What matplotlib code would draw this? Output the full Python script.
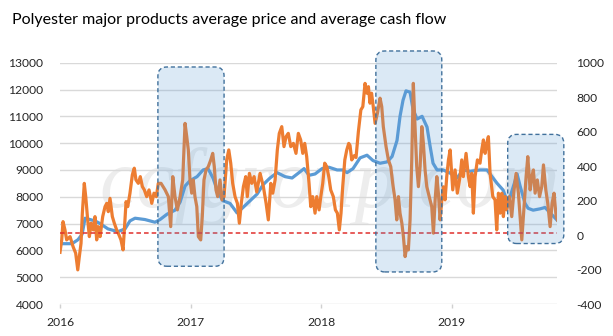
import matplotlib
matplotlib.use("Agg")
import matplotlib.pyplot as plt
from matplotlib.patches import FancyBboxPatch
from matplotlib.transforms import IdentityTransform

# ---------------- data ----------------
price_t = [2016.000, 2016.092, 2016.138, 2016.169, 2016.192, 2016.268, 2016.307, 2016.368,
           2016.444, 2016.498, 2016.536, 2016.575, 2016.651, 2016.728, 2016.766, 2016.820,
           2016.881, 2016.920, 2016.958, 2016.996, 2017.050, 2017.096, 2017.134, 2017.172,
           2017.211, 2017.249, 2017.303, 2017.356, 2017.402, 2017.456, 2017.510, 2017.556,
           2017.609, 2017.663, 2017.724, 2017.778, 2017.831, 2017.870, 2017.908, 2017.954,
           2018.008, 2018.061, 2018.123, 2018.169, 2018.199, 2018.245, 2018.299, 2018.352,
           2018.398, 2018.452, 2018.506, 2018.544, 2018.582, 2018.605, 2018.628, 2018.651,
           2018.682, 2018.705, 2018.736, 2018.774, 2018.812, 2018.835, 2018.858, 2018.889,
           2018.935, 2018.989, 2019.042, 2019.088, 2019.142, 2019.218, 2019.272, 2019.310,
           2019.349, 2019.395, 2019.433, 2019.471, 2019.502, 2019.525, 2019.563, 2019.586,
           2019.625, 2019.678, 2019.716, 2019.755, 2019.808]
price = [6250, 6250, 6400, 6600, 7200, 7100, 7000, 6800,
         6700, 6800, 7100, 7200, 7150, 7050, 7150, 7350,
         7500, 7800, 8400, 8600, 8750, 9000, 9050, 8700,
         8150, 7850, 7750, 7400, 7600, 7850, 8100, 8450,
         8700, 8900, 8750, 8700, 8900, 9050, 8800, 8850,
         9050, 9100, 9000, 9000, 8900, 9050, 9450, 9550,
         9350, 9250, 9300, 9500, 10100, 11000, 11600, 11950,
         11900, 11250, 10900, 11000, 10600, 9900, 9250, 9000,
         9000, 8880, 8700, 9000, 8950, 9000, 9000, 8750,
         8500, 8250, 7750, 8350, 8850, 8400, 7750, 7570,
         7500, 7550, 7600, 7400, 7130]

cash_t = [2016.000, 2016.013, 2016.023, 2016.038, 2016.051, 2016.077, 2016.100, 2016.120,
          2016.136, 2016.148, 2016.161, 2016.171, 2016.186, 2016.197, 2016.212, 2016.225,
          2016.238, 2016.255, 2016.268, 2016.281, 2016.293, 2016.307, 2016.327, 2016.345,
          2016.358, 2016.370, 2016.383, 2016.401, 2016.416, 2016.434, 2016.452, 2016.467,
          2016.483, 2016.493, 2016.506, 2016.519, 2016.536, 2016.554, 2016.569, 2016.582,
          2016.600, 2016.615, 2016.631, 2016.646, 2016.664, 2016.682, 2016.703, 2016.720,
          2016.738, 2016.753, 2016.774, 2016.805, 2016.830, 2016.848, 2016.864, 2016.881,
          2016.899, 2016.920, 2016.940, 2016.958, 2016.971, 2016.983, 2016.996, 2017.009,
          2017.021, 2017.034, 2017.048, 2017.060, 2017.078, 2017.090, 2017.103, 2017.119,
          2017.136, 2017.155, 2017.170, 2017.182, 2017.195, 2017.208, 2017.226, 2017.241,
          2017.257, 2017.277, 2017.293, 2017.308, 2017.323, 2017.341, 2017.359, 2017.374,
          2017.389, 2017.405, 2017.423, 2017.435, 2017.451, 2017.469, 2017.487, 2017.507,
          2017.533, 2017.558, 2017.579, 2017.596, 2017.615, 2017.630, 2017.648, 2017.665,
          2017.680, 2017.699, 2017.716, 2017.732, 2017.749, 2017.768, 2017.788, 2017.808,
          2017.826, 2017.844, 2017.860, 2017.875, 2017.890, 2017.908, 2017.921, 2017.936,
          2017.954, 2017.967, 2017.985, 2017.998, 2018.013, 2018.028, 2018.044, 2018.059,
          2018.074, 2018.094, 2018.110, 2018.125, 2018.140, 2018.153, 2018.166, 2018.182,
          2018.197, 2018.212, 2018.222, 2018.235, 2018.253, 2018.268, 2018.286, 2018.305,
          2018.320, 2018.337, 2018.351, 2018.363, 2018.375, 2018.387, 2018.400, 2018.414,
          2018.432, 2018.452, 2018.465, 2018.477, 2018.498, 2018.516, 2018.534, 2018.549,
          2018.567, 2018.580, 2018.593, 2018.605, 2018.619, 2018.631, 2018.644, 2018.657,
          2018.669, 2018.682, 2018.695, 2018.707, 2018.720, 2018.733, 2018.746, 2018.759,
          2018.772, 2018.784, 2018.797, 2018.810, 2018.822, 2018.835, 2018.848, 2018.861,
          2018.874, 2018.887, 2018.899, 2018.912, 2018.925, 2018.937, 2018.950, 2018.963,
          2018.976, 2018.989, 2019.009, 2019.027, 2019.044, 2019.065, 2019.078, 2019.090,
          2019.111, 2019.129, 2019.142, 2019.155, 2019.167, 2019.180, 2019.198, 2019.218,
          2019.231, 2019.244, 2019.257, 2019.270, 2019.282, 2019.295, 2019.316, 2019.333,
          2019.346, 2019.359, 2019.372, 2019.385, 2019.397, 2019.410, 2019.423, 2019.443,
          2019.461, 2019.479, 2019.494, 2019.512, 2019.525, 2019.538, 2019.550, 2019.571,
          2019.584, 2019.602, 2019.615, 2019.627, 2019.640, 2019.657, 2019.674, 2019.691,
          2019.704, 2019.722, 2019.737, 2019.755, 2019.770, 2019.785, 2019.801, 2019.811]
cash = [-100, -28, 78, 30, -28, -9, -67, -105,
        -202, -125, -48, 126, 300, 223, 88, -9,
        69, 30, 107, -28, 49, -9, 107, 165,
        184, 136, 213, 107, 69, 30, 0, -28,
        -86, 30, 194, 165, 243, 349, 388, 320,
        300, 339, 281, 262, 223, 262, 184, 243,
        223, 300, 300, 262, 223, 49, 339, 223,
        146, 223, 320, 648, 571, 494, 320, 243,
        320, 223, 165, -9, -28, 107, 320, 378,
        397, 436, 474, 397, 262, 223, 320, 204,
        223, 436, 494, 417, 300, 223, 184, 69,
        184, 281, 339, 223, 358, 300, 339, 250,
        358, 281, 184, 88, 300, 243, 320, 494,
        590, 629, 513, 571, 590, 513, 532, 474,
        590, 552, 474, 532, 455, 300, 165, 223,
        127, 223, 146, 223, 300, 417, 397, 339,
        262, 223, 146, 127, 30, 127, 281, 436,
        494, 532, 520, 436, 460, 450, 600, 726,
        745, 880, 823, 861, 765, 823, 745, 648,
        707, 794, 745, 629, 513, 436, 397, 300,
        204, 88, 223, 127, 69, -9, -125, -67,
        -86, 88, 436, 880, 629, 397, 281, 397,
        629, 532, 378, 281, 243, 204, 165, 11,
        204, 339, 243, 88, 200, 280, 204, 339,
        436, 494, 262, 378, 243, 339, 436, 339,
        474, 339, 281, 358, 127, 339, 436, 417,
        494, 552, 474, 532, 571, 358, 223, 204,
        30, 243, 127, 243, 107, 223, 146, 223,
        107, 262, 358, 243, 107, -28, 107, 339,
        455, 262, 339, 378, 243, 320, 223, 281,
        407, 262, 184, 49, 184, 243, 107, 88]

year_ticks = [2016, 2017, 2018, 2019]
year_labels = ["2016", "2017", "2018", "2019"]
left_ticks = [4000, 5000, 6000, 7000, 8000, 9000, 10000, 11000, 12000, 13000]
right_ticks = [-400, -200, 0, 200, 400, 600, 800, 1000]
zero_line = 10

# highlighted periods (x range in years, y range on the left axis)
highlight_x = [(2016.75, 2017.257), (2018.42, 2018.925), (2019.43, 2019.86)]
highlight_y = [(5408, 12840), (5196, 13437), (6256, 10326)]

title = "Polyester major products average price and average cash flow"
watermark = "ccfgroup.com"

# ---------------- style ----------------
FONT = ["Lato", "DejaVu Sans"]
plt.rcParams["font.family"] = FONT
BLUE = "#5B9BD5"
ORANGE = "#ED7D31"
GRID = "#D9D9D9"
TXT = "#262626"

fig = plt.figure(figsize=(6.13, 3.36), dpi=100)
ax = fig.add_axes([0.0979, 0.0952, 0.8108, 0.7182])
ax2 = ax.twinx()

ax.set_xlim(2016, 2019.808)
ax.set_ylim(4000, 13000)
ax2.set_ylim(-400, 1000)

ax.set_yticks(left_ticks)
ax.set_yticklabels([str(v) for v in left_ticks])
ax2.set_yticks(right_ticks)
ax2.set_yticklabels([str(v) for v in right_ticks])
ax.set_xticks(year_ticks)
ax.set_xticklabels(year_labels)

for a in (ax, ax2):
    for s in a.spines.values():
        s.set_visible(False)
ax.set_axisbelow(True)
ax.yaxis.grid(True, color=GRID, lw=1)
ax.tick_params(axis="y", length=0, pad=12, labelsize=8.7, labelcolor=TXT)
ax2.tick_params(axis="y", length=0, pad=14, labelsize=8.7, labelcolor=TXT)
ax.tick_params(axis="x", length=3, width=1, color="#D0D0D0", pad=6,
               labelsize=8.7, labelcolor=TXT)

# watermark
ax.text(0.08, 0.40, watermark, transform=ax.transAxes, fontsize=61,
        family=["Liberation Serif", "DejaVu Serif"], style="italic",
        color="#EDEDED", ha="left", va="baseline", zorder=0.1)

ax.plot(price_t, price, color=BLUE, lw=2.3, solid_joinstyle="round", zorder=2)
ax2.plot(cash_t, cash, color=ORANGE, lw=2.3, solid_joinstyle="round", zorder=2)
ax2.axhline(zero_line, color="#E0302E", lw=1.1, ls=(0, (3, 2)), zorder=3)

# rounded highlight boxes (overlaid, semi-transparent)
for (x0, x1), (y0, y1) in zip(highlight_x, highlight_y):
    p0 = ax.transData.transform((x0, y0))
    p1 = ax.transData.transform((x1, y1))
    box = FancyBboxPatch((p0[0], p0[1]), p1[0] - p0[0], p1[1] - p0[1],
                         boxstyle="round,pad=0,rounding_size=9",
                         transform=IdentityTransform(),
                         facecolor=(0.357, 0.608, 0.835, 0.22),
                         edgecolor="#41719C", lw=1, ls=(0, (3, 2)),
                         zorder=10, clip_on=False)
    fig.add_artist(box)

fig.text(12 / 613, 1 - 20 / 336, title, fontsize=11.5, color="#000000",
         ha="left", va="center")

fig.savefig("out.png", dpi=100)
